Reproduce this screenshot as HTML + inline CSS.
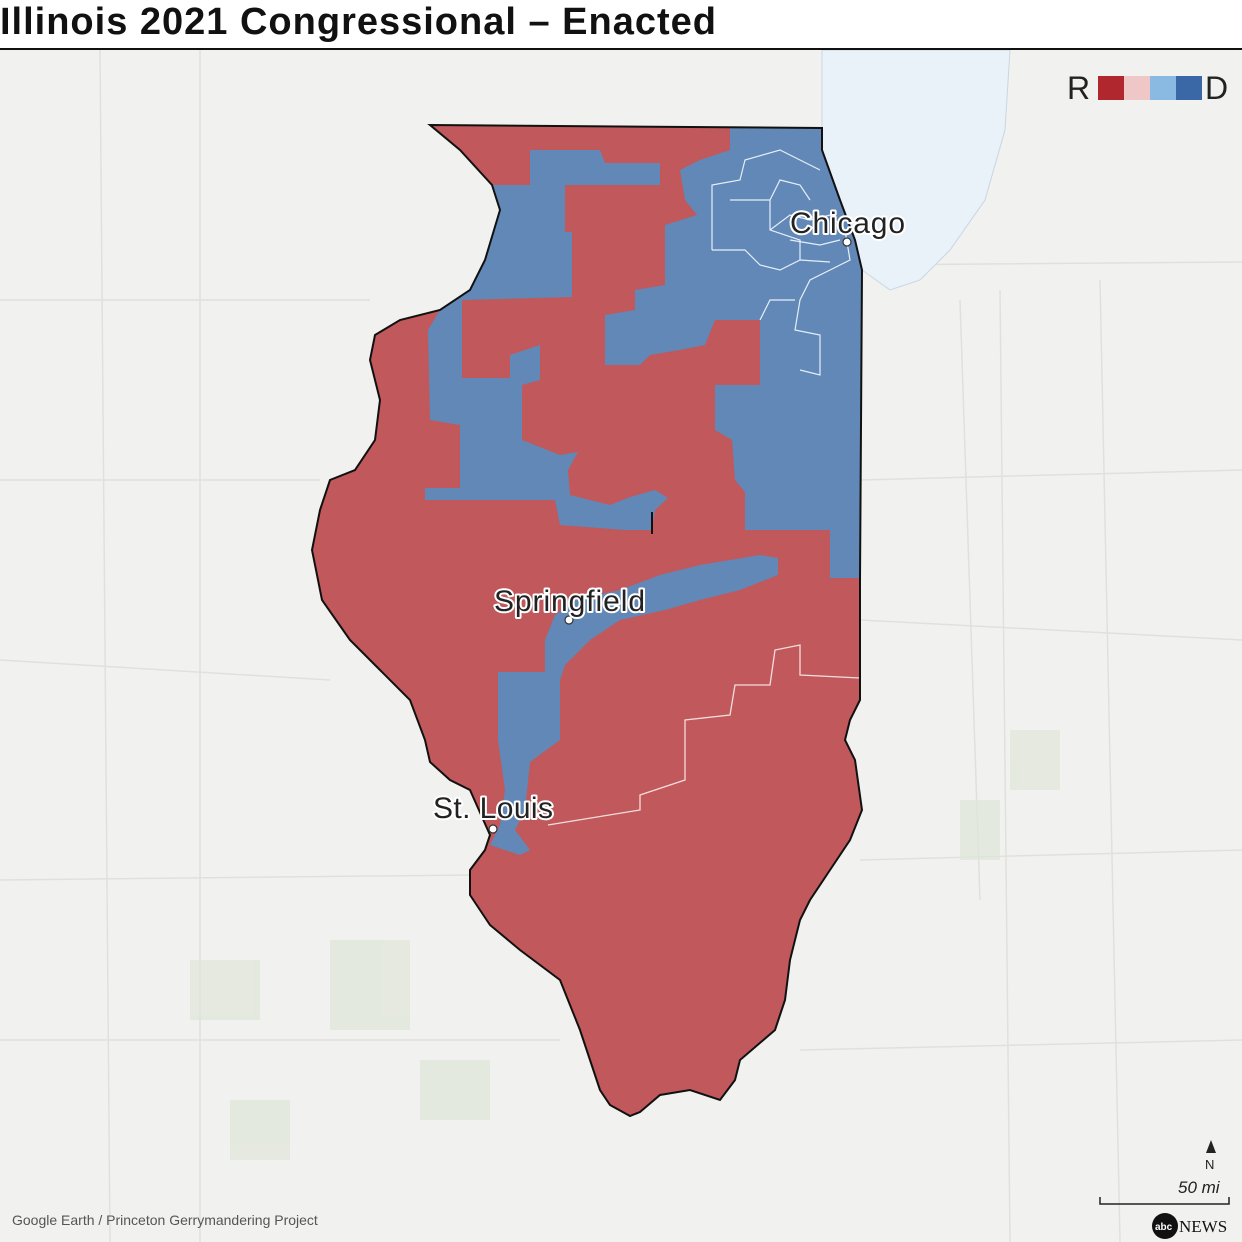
<!DOCTYPE html>
<html><head><meta charset="utf-8"><style>
html,body{margin:0;padding:0;background:#fff}
svg{display:block}
.lbl{font-family:"Liberation Sans",sans-serif;font-size:30px;fill:#222;stroke:#fff;stroke-width:4px;paint-order:stroke;stroke-linejoin:round}
</style></head><body>
<svg width="1242" height="1242" viewBox="0 0 1242 1242" xmlns="http://www.w3.org/2000/svg">
<defs>
<path id="il" d="M430 125 L822 128 L822 150 L840 200 L855 240 L862 270 L860 580 L860 700 L850 720 L845 740 L855 760 L862 810 L850 840 L830 870 L810 900 L800 920 L790 960 L785 1000 L775 1030 L740 1060 L735 1080 L720 1100 L690 1090 L660 1095 L640 1112 L630 1116 L610 1105 L600 1090 L590 1060 L580 1030 L560 980 L520 950 L490 925 L470 895 L470 870 L485 850 L490 835 L470 790 L450 780 L430 762 L425 740 L410 700 L380 670 L350 640 L322 600 L312 550 L320 510 L330 480 L355 470 L375 440 L380 400 L370 360 L375 335 L400 320 L440 310 L470 290 L485 260 L500 210 L492 185 L460 150 Z"/>
</defs>
<rect width="1242" height="1242" fill="#f1f1ef"/>
<g stroke="#e0e0dc" stroke-width="1.5" fill="none">
<path d="M0 480 L320 480 M860 480 L1242 470 M0 300 L370 300 M860 265 L1242 262 M0 660 L330 680 M860 620 L1242 640 M0 880 L470 875 M860 860 L1242 850 M0 1040 L560 1040 M800 1050 L1242 1040"/>
<path d="M200 50 L200 1242 M100 50 L110 1242 M1000 290 L1010 1242 M1100 280 L1120 1242 M960 300 L980 900"/>
</g>
<g fill="#dfe6da" opacity="0.7">
<rect x="190" y="960" width="70" height="60"/><rect x="330" y="940" width="80" height="90"/><rect x="420" y="1060" width="70" height="60"/><rect x="230" y="1100" width="60" height="60"/><rect x="960" y="800" width="40" height="60"/><rect x="1010" y="730" width="50" height="60"/>
</g>
<path d="M822 50 L1010 50 L1005 130 L985 200 L950 250 L920 280 L890 290 L862 270 L855 240 L840 200 L822 150 Z" fill="#e9f1f9" stroke="#c9d6e3" stroke-width="1"/>
<use href="#il" fill="#c1585b"/>
<g fill="#6188b6">
<path d="M530 150 L600 150 L605 163 L660 163 L660 185 L565 185 L565 232 L572 232 L572 297 L462 300 L462 378 L510 378 L510 355 L540 345 L540 380 L522 385 L522 440 L560 455 L578 452 L568 470 L570 495 L610 505 L630 497 L655 490 L668 498 L655 510 L652 530 L625 530 L560 525 L555 500 L425 500 L425 488 L460 488 L460 425 L430 420 L428 330 L440 310 L470 290 L485 260 L500 210 L492 185 L530 185 Z"/>
<path d="M730 128 L822 128 L822 150 L840 200 L855 240 L862 270 L860 578 L830 578 L830 530 L745 530 L745 492 L735 480 L732 440 L715 430 L715 385 L760 385 L760 320 L715 320 L705 345 L680 350 L650 355 L640 365 L605 365 L605 315 L635 310 L635 290 L665 285 L665 225 L697 215 L685 200 L680 170 L700 160 L730 150 Z"/>
<path d="M545 640 L555 615 L575 600 L620 590 L660 575 L700 565 L760 555 L778 558 L778 575 L740 590 L700 600 L665 610 L620 620 L590 640 L565 665 L560 680 L560 740 L530 762 L525 810 L515 830 L530 850 L520 855 L490 845 L500 825 L505 790 L498 740 L498 672 L545 672 Z"/>
</g>
<g fill="none" stroke="#f3dede" stroke-width="1.3">
<path d="M548 825 L640 810 L640 795 L685 780 L685 720 L730 715 L735 685 L770 685 L775 650 L800 645 L800 675 L860 678"/>
</g>
<g fill="none" stroke="#e6eef8" stroke-width="1.2">
<path d="M712 250 L712 185 L740 180 L745 160 L780 150 L800 160 L820 170"/>
<path d="M730 200 L770 200 L770 230 L800 240 L800 260 L780 270 L760 265 L745 250 L712 250"/>
<path d="M770 230 L790 215 L810 220 L830 215 L845 230 L850 260 L830 270 L810 280 L800 300 L795 330 L820 335 L820 375 L800 370"/>
<path d="M790 240 L820 245 L840 240 M800 260 L830 262 M770 200 L780 180 L800 185 L810 200"/>
<path d="M760 320 L770 300 L795 300"/>
</g>
<use href="#il" fill="none" stroke="#111" stroke-width="2"/>
<line x1="652" y1="512" x2="652" y2="534" stroke="#111" stroke-width="2"/>
<g fill="#fff" stroke="#333" stroke-width="1.2">
<circle cx="847" cy="242" r="4"/><circle cx="569" cy="620" r="4"/><circle cx="493" cy="829" r="4"/>
</g>
<text class="lbl" x="790" y="233" textLength="115">Chicago</text>
<text class="lbl" x="494" y="611" textLength="151">Springfield</text>
<text class="lbl" x="433" y="818" textLength="120">St. Louis</text>
<rect x="0" y="0" width="1242" height="48" fill="#fff"/>
<line x1="0" y1="49" x2="1242" y2="49" stroke="#111" stroke-width="2"/>
<text x="0" y="34" font-family="Liberation Sans,sans-serif" font-weight="bold" font-size="38" fill="#111" textLength="716">Illinois 2021 Congressional – Enacted</text>
<text x="1067" y="99" font-family="Liberation Sans,sans-serif" font-size="32" fill="#222">R</text>
<rect x="1098" y="76" width="26" height="24" fill="#b0272e"/>
<rect x="1124" y="76" width="26" height="24" fill="#f0c7c7"/>
<rect x="1150" y="76" width="26" height="24" fill="#8ab9e2"/>
<rect x="1176" y="76" width="26" height="24" fill="#3a68a6"/>
<text x="1205" y="99" font-family="Liberation Sans,sans-serif" font-size="32" fill="#222">D</text>
<path d="M1211 1140 L1206 1153 L1216 1153 Z" fill="#222"/>
<text x="1205" y="1169" font-family="Liberation Sans,sans-serif" font-size="13" fill="#222">N</text>
<text x="1178" y="1193" font-family="Liberation Sans,sans-serif" font-style="italic" font-size="17" fill="#222">50 mi</text>
<path d="M1100 1197 L1100 1204 L1229 1204 L1229 1197" fill="none" stroke="#222" stroke-width="1.5"/>
<text x="12" y="1225" font-family="Liberation Sans,sans-serif" font-size="14" fill="#555">Google Earth  / Princeton Gerrymandering Project</text>
<circle cx="1165" cy="1226" r="13" fill="#111"/>
<text x="1155" y="1230" font-family="Liberation Sans,sans-serif" font-size="10" font-weight="bold" fill="#fff">abc</text>
<text x="1179" y="1232" font-family="Liberation Serif,serif" font-size="17" fill="#111">NEWS</text>
</svg>
</body></html>
